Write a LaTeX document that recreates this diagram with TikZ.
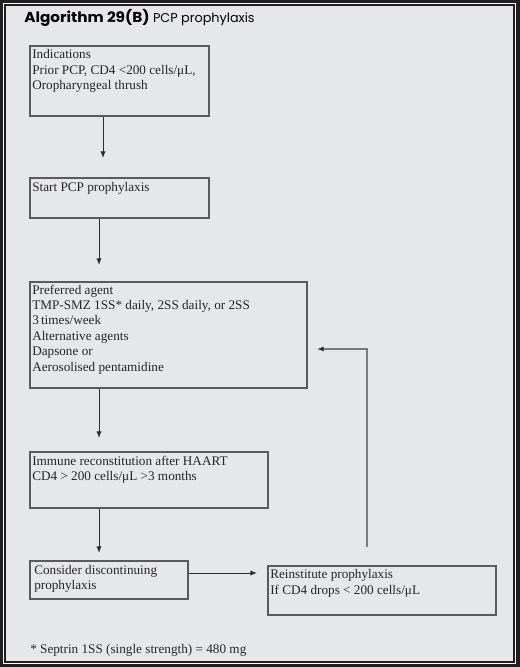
\documentclass[tikz,border=0pt]{standalone}
\usepackage{fontspec}
\setmainfont{Liberation Serif}
\newfontfamily\titlefont{Poppins}
\usetikzlibrary{arrows.meta,fit}
\definecolor{framedark}{HTML}{231F20}
\definecolor{panel}{HTML}{E6E7E8}
\definecolor{boxline}{HTML}{5A5A5A}
\definecolor{arrowline}{HTML}{2E2E2E}
\definecolor{fbline}{HTML}{7A7A7A}
\begin{document}
\begin{tikzpicture}[x=0.75pt,y=-0.75pt,
  box/.style={draw=boxline,line width=0.8pt,inner sep=0pt},
  txt/.style={anchor=north west,inner sep=0pt,align=left,
    font=\fontsize{9.9}{11.6}\selectfont,text=black!85},
  arr/.style={draw=arrowline,line width=0.75pt,-{Latex[length=5pt,width=4pt]}},
  fbarr/.style={draw=fbline,line width=1pt,-{Latex[length=5pt,width=4pt,color=arrowline]}}
]
\useasboundingbox (0,0) rectangle (520,667);
% frame
\fill[framedark] (0,0) rectangle (520,667);
\fill[white] (3,3) rectangle (516,664);
\fill[framedark] (4,4) rectangle (515,663);
\fill[panel] (6,6) rectangle (513,661);

% title
\node[anchor=base west,inner sep=0pt] (title) at (24,22.7)
  {\titlefont\fontsize{10.8}{12}\selectfont\scalebox{1.06}[1]{\textbf{Algorithm 29(B)}}\hspace{2.5pt}\fontsize{9.6}{12}\selectfont PCP prophylaxis};

% boxes
\node[box,fit={(30,46)(209,116)}] (b1) {};
\node[box,fit={(30,178)(209,218)}] (b2) {};
\node[box,fit={(30,282)(307,388)}] (b3) {};
\node[box,fit={(30,452)(268,508)}] (b4) {};
\node[box,fit={(30,561)(188,599)}] (b5) {};
\node[box,fit={(268,566)(496,615)}] (b6) {};

% texts
\node[txt] (t1) at (32,49.5) {Indications\\Prior PCP, CD4 <200 cells/μL,\\Oropharyngeal thrush};
\node[txt] (t2) at (32,182.5) {Start PCP prophylaxis};
\node[txt] (t3) at (32,284.5) {Preferred agent\\TMP-SMZ 1SS* daily, 2SS daily, or 2SS\\3\,times/week\\Alternative agents\\Dapsone or\\Aerosolised pentamidine};
\node[txt] (t4) at (32,455.5) {Immune reconstitution after HAART\\CD4 > 200 cells/μL >3 months};
\node[txt,font=\fontsize{9.9}{10.6}\selectfont] (t5) at (34,565.5) {Consider discontinuing\\prophylaxis};
\node[txt] (t6) at (270,569.5) {Reinstitute prophylaxis\\If CD4 drops < 200 cells/μL};
\node[txt] (fn) at (30,644.5) {* Septrin 1SS (single strength) = 480 mg};

% arrow end points
\coordinate (e1) at (103,158);
\coordinate (e2) at (99,265);
\coordinate (e3) at (99,438);
\coordinate (e4) at (99,553);
\coordinate (e5) at (257,573);
\coordinate (f0) at (367,547);
\coordinate (f1) at (317,349);

\draw[arr] (b1.south -| e1) -- (e1);
\draw[arr] (b2.south -| e2) -- (e2);
\draw[arr] (b3.south -| e3) -- (e3);
\draw[arr] (b4.south -| e4) -- (e4);
\draw[arr] (b5.east |- e5) -- (e5);
\draw[fbarr] (f0) |- (f1);
\end{tikzpicture}
\end{document}
